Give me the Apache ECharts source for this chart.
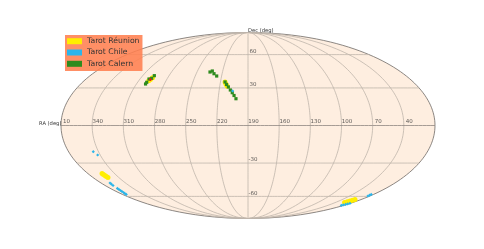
<!DOCTYPE html>
<html><head><meta charset="utf-8">
<style>html,body{margin:0;padding:0;background:#fff}#c{width:484px;height:249px}</style>
<script src="https://cdn.jsdelivr.net/npm/echarts@6/dist/echarts.min.js"></script>
</head><body><div id="c"></div>
<script>
// [RA deg, Dec deg]
const reunion = [[299,36],[297,38.5],[298,37],[215,35],[213.6,33],[212,31.5],[354,-38.8],[353.6,-39.6],[353.3,-40.5],[353,-41.4],[352.6,-42.3],[24,-66.5],[23,-65.6],[22,-64.8],[21,-64],[20,-63.2]];
const calern = [[300.2,33.3],[300.1,34.7],[300,37.5],[297.6,38.1],[296.8,40.4],[234.7,43.6],[232.4,44.5],[229.4,42.1],[225.6,40.1],[215,35],[213,32.9],[210.8,30.8],[208.4,28.3],[206.2,26.1],[204.2,23.8],[202.1,21.2]];
const chile = [[205.9,27.5],[345.2,-20.7],[342.6,-23.4],[359,-47.2],[359.5,-48.3],[360,-49.5],[0.7,-52.2],[1.2,-53.2],[1.7,-54.2],[2.2,-55.1],[2.7,-56.1],[3.6,-57],[4.5,-58],[13,-59.6],[13.2,-58.8],[13.4,-58],[14.5,-69.7],[13.4,-69.2],[12.3,-68.6],[11.6,-68],[11,-67.3]];
const overlap = [[298,37]];
const raTicks = [10,340,310,280,250,220,190,160,130,100,70,40];
const decTicks = [60,30,-30,-60];
const seriesNames = ['Tarot Réunion','Tarot Chile','Tarot Calern'];
const CENTER_RA = 190;

function theta(dec){
  const t = Math.PI*Math.sin(dec*Math.PI/180);
  let lo=-Math.PI/2, hi=Math.PI/2;
  for(let i=0;i<60;i++){const m=(lo+hi)/2; if(2*m+Math.sin(2*m)<t) lo=m; else hi=m;}
  return (lo+hi)/2;
}
function projLon(lon,dec){const a=theta(dec);return [lon/180*Math.cos(a),Math.sin(a)];}
function wrapLon(ra){let l=CENTER_RA-ra;while(l<-180)l+=360;while(l>=180)l-=360;return l;}
function proj(p){return projLon(wrapLon(p[0]),p[1]);}

const sweepDec=[];for(let d=-90;d<=90;d+=2)sweepDec.push(d);
const sweepLon=[];for(let l=-180;l<=180;l+=4)sweepLon.push(l);
const GRID='#bfb5ab';
function gl(data,color,w){return {type:'line',data,symbol:'none',silent:true,clip:false,z:2,lineStyle:{color:color||GRID,width:w||0.8},animation:false};}
const series=[];
const outline=sweepDec.map(d=>projLon(180,d)).concat(sweepDec.slice().reverse().map(d=>projLon(-180,d)));
series.push({type:'custom',silent:true,z:1,clip:false,data:[0],animation:false,
  renderItem:(p,api)=>({type:'polygon',shape:{points:outline.map(q=>api.coord(q))},
    style:{fill:'#feeee0',stroke:'#6e6a66',lineWidth:0.8}})});
raTicks.filter(r=>r!==10).forEach(r=>{
  const l=wrapLon(r);
  series.push(gl(sweepDec.map(d=>projLon(l,d)),GRID,0.8));
});
decTicks.forEach(d=>series.push(gl(sweepLon.map(l=>projLon(l,d)),GRID,0.8)));
series.push(gl(sweepLon.map(l=>projLon(l,0)),'#8f8781',0.8));
function pts(name,data,color,size,sym,z){return {type:'scatter',name,data:data.map(proj),symbol:sym||'diamond',symbolSize:size,clip:false,z:z,silent:true,itemStyle:{color,opacity:1},animation:false};}
series.push(pts(seriesNames[0],reunion,'#ffee00',5,'circle',5));
series.push(pts(seriesNames[2],calern,'#2e8b1e',3.2,'rect',6));
series.push(pts(seriesNames[1],chile,'#2bb5ea',3.2,'diamond',7));
series.push(pts('Overlap',overlap,'#e8141c',2.6,'circle',8));
const lblStyle={show:true,position:'inside',fontFamily:'DejaVu Sans',fontSize:5.5,color:'#333'};
series.push({type:'scatter',symbolSize:0,silent:true,clip:false,z:9,animation:false,
  data:raTicks.map(r=>({value:projLon(wrapLon(r),0),name:String(r)})),
  label:{...lblStyle,formatter:'{b}',offset:[5.5,-3.5]}});
series.push({type:'scatter',symbolSize:0,silent:true,clip:false,z:9,animation:false,
  data:decTicks.map(d=>({value:projLon(0,d),name:String(d)})),
  label:{...lblStyle,formatter:'{b}',offset:[5,-3]}});

const chart=echarts.init(document.getElementById('c'),null,{renderer:'canvas'});
chart.setOption({
  animation:false,
  grid:{left:61,width:374,top:32.5,height:186},
  xAxis:{type:'value',min:-1,max:1,show:false},
  yAxis:{type:'value',min:-1,max:1,show:false},
  legend:{data:[seriesNames[0],seriesNames[1],seriesNames[2]],orient:'vertical',left:65,top:35,z:20,
    backgroundColor:'rgba(255,127,80,0.88)',padding:[2.2,3,3.1,2],itemWidth:15,itemHeight:6,itemGap:3.3,icon:'rect',selectedMode:false,
    textStyle:{fontFamily:'DejaVu Sans',fontSize:7.7,color:'#333'}},
  graphic:[
    {type:'text',left:39,top:121,z:20,style:{text:'RA (deg)',fontFamily:'DejaVu Sans',fontSize:5.2,fill:'#333'}},
    {type:'text',left:248,top:28,z:20,style:{text:'Dec (deg)',fontFamily:'DejaVu Sans',fontSize:5.2,fill:'#333'}}
  ],
  series
});
</script></body></html>
